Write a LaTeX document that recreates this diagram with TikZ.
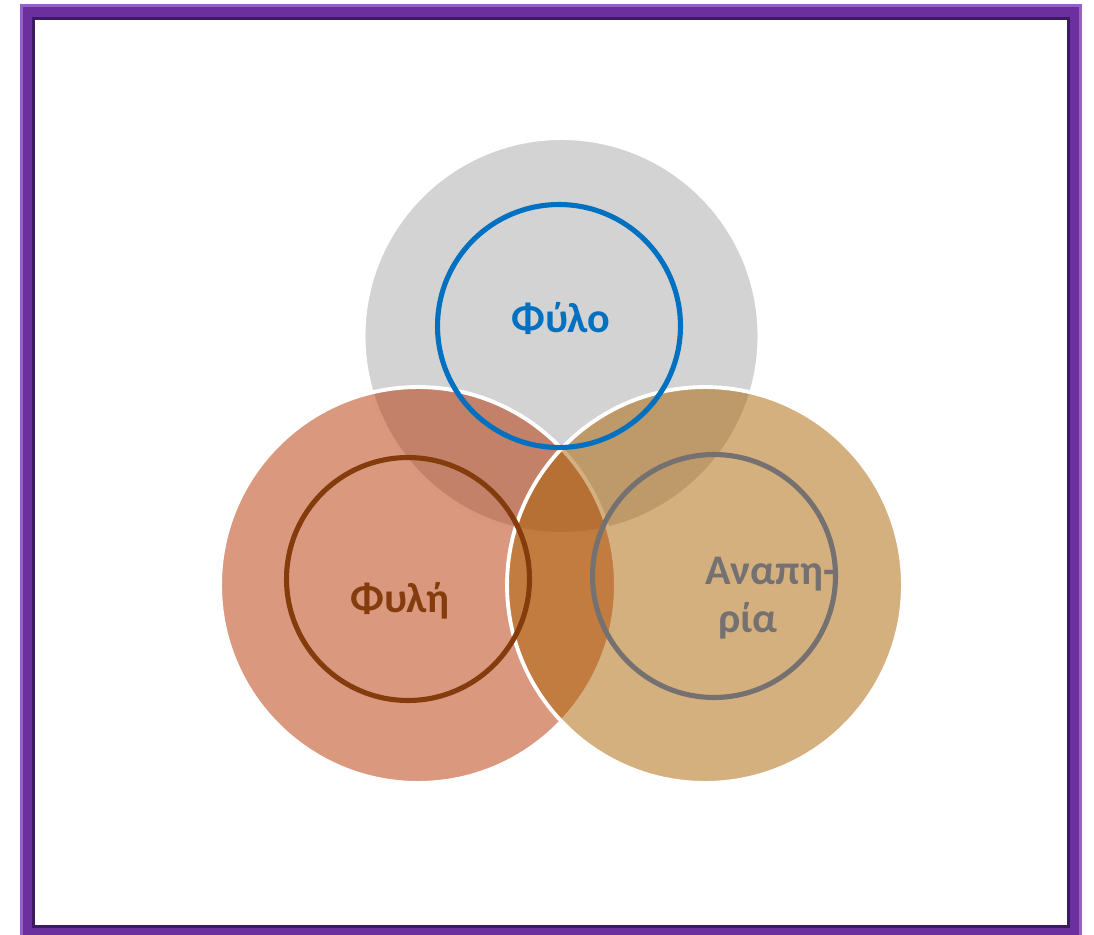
\documentclass[tikz,border=0pt]{standalone}
\usepackage{fontspec}
\setmainfont{Carlito}

\definecolor{frameviolet}{RGB}{108,48,158}
\definecolor{framedark}{RGB}{62,26,98}
\definecolor{framelight}{RGB}{150,96,196}
\definecolor{greydisc}{RGB}{211,211,211}
\definecolor{reddisc}{RGB}{181,49,0}
\definecolor{tandisc}{RGB}{171,97,0}
\definecolor{bluering}{RGB}{0,112,192}
\definecolor{brownring}{RGB}{132,60,12}
\definecolor{greyring}{RGB}{118,113,113}

\begin{document}
\begin{tikzpicture}[x=0.02cm,y=-0.02cm,
  disc/.style={circle,draw=white,line width=2.2pt,minimum size=7.92cm,inner sep=0pt},
  ring/.style={circle,line width=2.9pt,minimum size=4.86cm,inner sep=0pt},
  label/.style={font=\fontsize{24}{27}\selectfont\bfseries,inner sep=0pt}]

  \useasboundingbox (0,0) rectangle (1094,935);

  % frame
  \draw[frameviolet,line width=15*0.02cm] (27.5,12) rectangle (1074.5,932);
  \draw[framelight,line width=3*0.02cm] (21.5,5.5) rectangle (1080.5,940);
  \draw[framedark,line width=3*0.02cm] (33.5,18.5) rectangle (1068.5,926);

  % discs
  \node[disc,fill=greydisc] (sexdisc) at (561.5,336) {};
  \node[disc,fill=reddisc,fill opacity=0.5] (racedisc) at (418,585) {};
  \node[disc,fill=tandisc,fill opacity=0.5] (disdisc) at (705,585) {};

  % rings
  \node[ring,draw=bluering] (sexring) at (559,326) {};
  \node[ring,draw=brownring] (racering) at (408,579) {};
  \node[ring,draw=greyring] (disring) at (714,576) {};

  % labels
  \node[label,text=bluering,anchor=base] (sex) at (561,333) {Φύλο};
  \node[label,text=brownring,anchor=base] (race) at (400,612) {Φυλή};
  \node[label,text=greyring,align=left,anchor=base west] (dis) at (705,632) {Αναπη-\\ \hspace{0.3em}ρία};
\end{tikzpicture}
\end{document}
